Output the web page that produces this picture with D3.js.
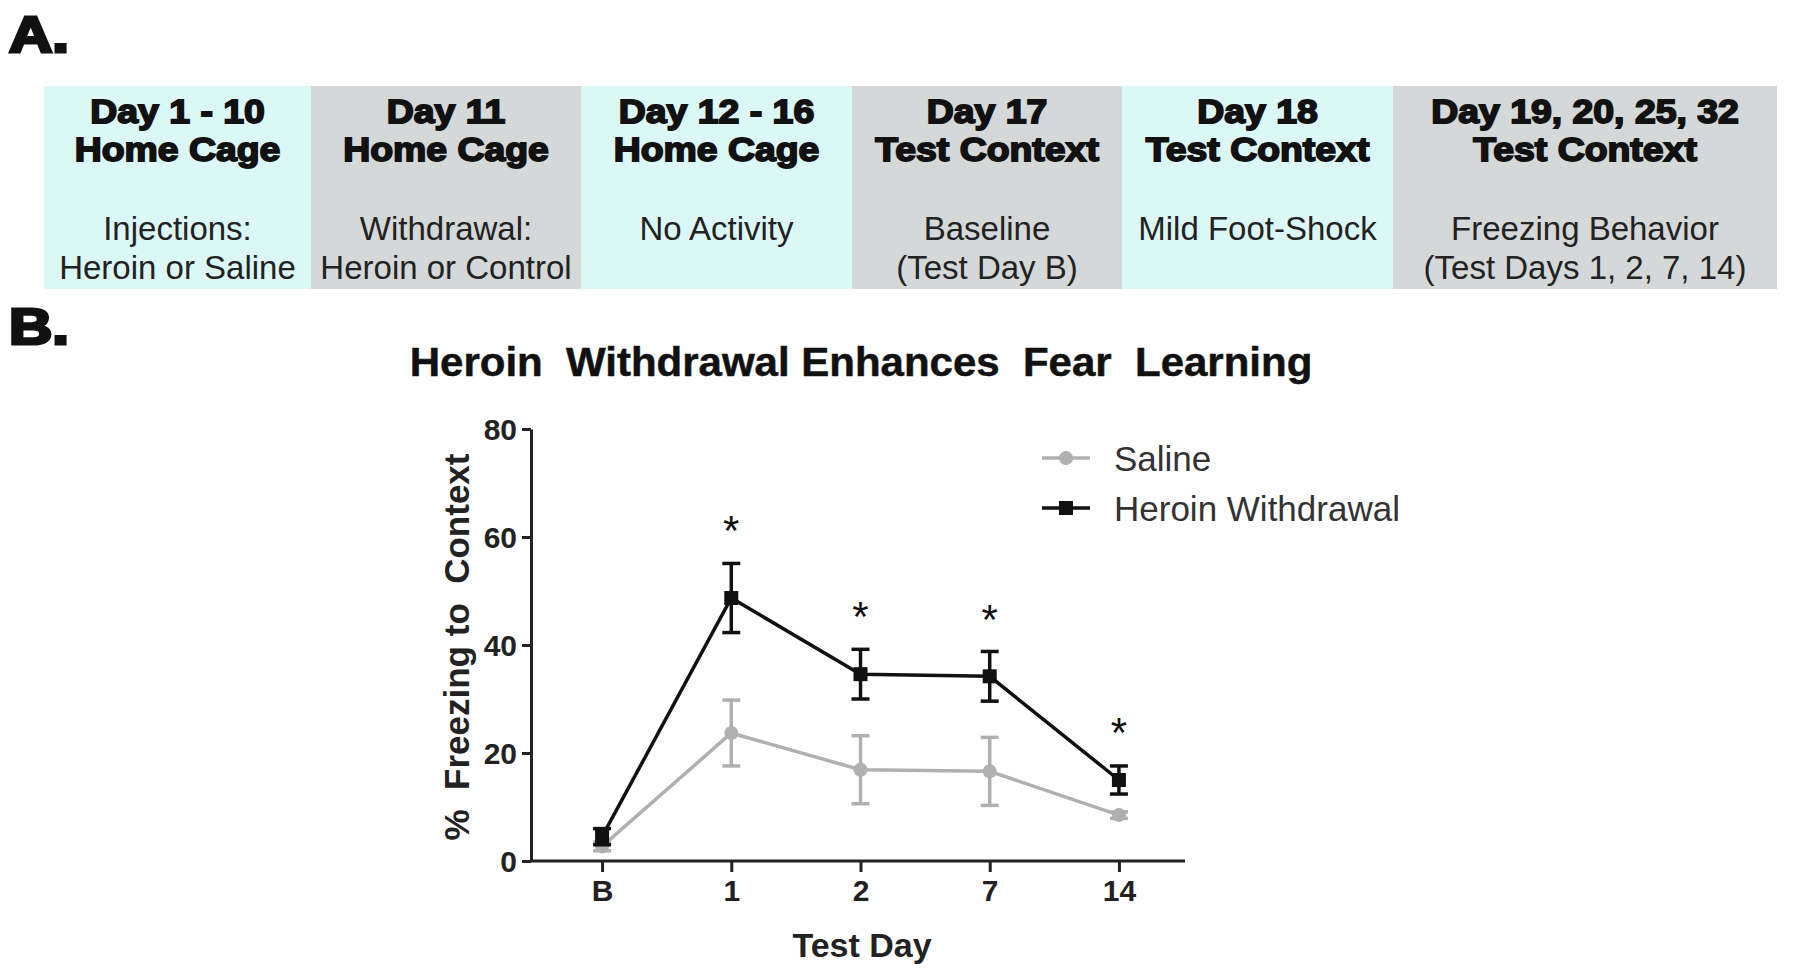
<!DOCTYPE html>
<html>
<head>
<meta charset="utf-8">
<script src="https://cdn.jsdelivr.net/npm/d3@7"></script>
<style>
	html, body { margin: 0; padding: 0; background: #fff; }
	svg { display: block; }
	text { font-family: "Liberation Sans", Arial, sans-serif; }
</style>
</head>
<body>
<div id="chart"></div>
<script>
// panel A: timeline
const phaseDays = ["Day 1 - 10", "Day 11", "Day 12 - 16", "Day 17", "Day 18", "Day 19, 20, 25, 32"];
const phasePlaces = ["Home Cage", "Home Cage", "Home Cage", "Test Context", "Test Context", "Test Context"];
const phaseDesc = [
	["Injections:", "Heroin or Saline"],
	["Withdrawal:", "Heroin or Control"],
	["No Activity"],
	["Baseline", "(Test Day B)"],
	["Mild Foot-Shock"],
	["Freezing Behavior", "(Test Days 1, 2, 7, 14)"]
];

// panel B: freezing data
const testDays = ["B", "1", "2", "7", "14"];
const salineMean = [2.7, 23.7, 16.9, 16.6, 8.5];
const salineSem = [0.8, 6.1, 6.3, 6.3, 0.6];
const heroinMean = [4.5, 48.7, 34.6, 34.2, 15.0];
const heroinSem = [1.5, 6.4, 4.6, 4.6, 2.6];
const starLevel = [null, 62, 46.2, 45.6, 24.6];
const yTicks = [0, 20, 40, 60, 80];

// layout
const width = 1800;
const height = 971;
const boxEdges = [44, 311, 581, 852, 1122, 1393, 1777];
const boxTop = 86;
const boxBottom = 289;
const cyan = "#dcf8f6";
const grey = "#d5d8d9";

const svg = d3.select("#chart").append("svg")
	.attr("width", width)
	.attr("height", height)
	.attr("viewBox", [0, 0, width, height]);

// panel letters
svg.selectAll("text.panel")
	.data([["A.", 52], ["B.", 344]])
	.join("text")
	.attr("class", "panel")
	.attr("transform", d => `translate(9,${d[1]}) scale(1.2,1)`)
	.attr("font-size", 50)
	.attr("font-weight", "bold")
	.attr("fill", "#111")
	.attr("stroke", "#111")
	.attr("stroke-width", 3)
	.text(d => d[0]);

// timeline boxes
const boxes = svg.append("g").selectAll("g")
	.data(phaseDays)
	.join("g");

boxes.append("rect")
	.attr("x", (d, i) => boxEdges[i])
	.attr("y", boxTop)
	.attr("width", (d, i) => boxEdges[i + 1] - boxEdges[i])
	.attr("height", boxBottom - boxTop)
	.attr("fill", (d, i) => i % 2 === 0 ? cyan : grey);

const boxMid = i => (boxEdges[i] + boxEdges[i + 1]) / 2;

function heading(sel, yPos, accessor) {
	sel.append("text")
		.attr("transform", (d, i) => `translate(${boxMid(i)},${yPos}) scale(1.1,1)`)
		.attr("text-anchor", "middle")
		.attr("font-size", 34)
		.attr("font-weight", "bold")
		.attr("fill", "#111")
		.attr("stroke", "#111")
		.attr("stroke-width", 1.8)
		.text(accessor);
}
heading(boxes, 123, d => d);
heading(boxes, 161, (d, i) => phasePlaces[i]);

boxes.each(function(d, i) {
	d3.select(this).selectAll("text.desc")
		.data(phaseDesc[i])
		.join("text")
		.attr("class", "desc")
		.attr("x", boxMid(i))
		.attr("y", (t, j) => 240 + j * 39)
		.attr("text-anchor", "middle")
		.attr("font-size", 33)
		.attr("fill", "#222")
		.text(t => t);
});

// panel B chart
const x = d3.scalePoint(testDays, [531, 1190]).padding(0.55);
const y = d3.scaleLinear([0, 80], [861, 429]);

svg.append("text")
	.attr("transform", "translate(861,376) scale(1.05,1)")
	.attr("text-anchor", "middle")
	.attr("font-size", 40)
	.attr("font-weight", "bold")
	.attr("fill", "#111")
	.attr("stroke", "#111")
	.attr("stroke-width", 0.5)
	.attr("xml:space", "preserve")
	.style("white-space", "pre")
	.text("Heroin  Withdrawal Enhances  Fear  Learning");

// axes
const gx = svg.append("g")
	.attr("transform", `translate(0,${y(0)})`)
	.call(d3.axisBottom(x).tickSize(11).tickPadding(8).tickSizeOuter(0));
gx.select(".domain").attr("d", `M531,0H1185`);

const gy = svg.append("g")
	.attr("transform", `translate(531,0)`)
	.call(d3.axisLeft(y).tickValues(yTicks).tickSize(9).tickPadding(5).tickSizeOuter(0));

[gx, gy].forEach(g => {
	g.select(".domain").attr("stroke", "#222").attr("stroke-width", 3);
	g.selectAll(".tick line").attr("stroke", "#222").attr("stroke-width", 3);
	g.selectAll(".tick text")
		.attr("font-size", 30)
		.attr("font-weight", "bold")
		.attr("font-family", "'Liberation Sans', Arial, sans-serif")
		.attr("fill", "#222");
});
gy.selectAll(".tick text").attr("dy", "0.35em");

svg.append("text")
	.attr("x", 862)
	.attr("y", 957)
	.attr("text-anchor", "middle")
	.attr("font-size", 34)
	.attr("font-weight", "bold")
	.attr("fill", "#222")
	.text("Test Day");

svg.append("text")
	.attr("transform", "translate(469,647) rotate(-90)")
	.attr("text-anchor", "middle")
	.attr("font-size", 35)
	.attr("font-weight", "bold")
	.attr("fill", "#222")
	.attr("xml:space", "preserve")
	.style("white-space", "pre")
	.text("%  Freezing to  Context");

// series
const series = [
	{ name: "Saline", mean: salineMean, sem: salineSem, color: "#b0b0b0", shape: "circle" },
	{ name: "Heroin Withdrawal", mean: heroinMean, sem: heroinSem, color: "#111", shape: "square" }
];

const line = d3.line()
	.x((d, i) => x(testDays[i]))
	.y(d => y(d));

series.forEach(s => {
	const g = svg.append("g");
	// error bars
	const err = g.selectAll("g.err")
		.data(s.mean)
		.join("g")
		.attr("class", "err");
	err.append("line")
		.attr("x1", (d, i) => x(testDays[i]))
		.attr("x2", (d, i) => x(testDays[i]))
		.attr("y1", (d, i) => y(d - s.sem[i]))
		.attr("y2", (d, i) => y(d + s.sem[i]))
		.attr("stroke", s.color)
		.attr("stroke-width", 3.5);
	[-1, 1].forEach(sign => {
		err.append("line")
			.attr("x1", (d, i) => x(testDays[i]) - 9)
			.attr("x2", (d, i) => x(testDays[i]) + 9)
			.attr("y1", (d, i) => y(d + sign * s.sem[i]))
			.attr("y2", (d, i) => y(d + sign * s.sem[i]))
			.attr("stroke", s.color)
			.attr("stroke-width", 3.5);
	});

	g.append("path")
		.datum(s.mean)
		.attr("fill", "none")
		.attr("stroke", s.color)
		.attr("stroke-width", 3.5)
		.attr("d", line);

	if (s.shape === "circle") {
		g.selectAll("circle")
			.data(s.mean)
			.join("circle")
			.attr("cx", (d, i) => x(testDays[i]))
			.attr("cy", d => y(d))
			.attr("r", 7)
			.attr("fill", s.color);
	} else {
		g.selectAll("rect")
			.data(s.mean)
			.join("rect")
			.attr("x", (d, i) => x(testDays[i]) - 7)
			.attr("y", d => y(d) - 7)
			.attr("width", 14)
			.attr("height", 14)
			.attr("fill", s.color);
	}
});

// significance stars
svg.selectAll("text.star")
	.data(starLevel)
	.join("text")
	.attr("class", "star")
	.filter(d => d !== null)
	.attr("x", (d, i) => x(testDays[starLevel.indexOf(d)]))
	.attr("y", d => y(d) + 19)
	.attr("text-anchor", "middle")
	.attr("font-size", 42)
	.attr("fill", "#111")
	.text("*");

// legend
const legend = svg.append("g")
	.selectAll("g")
	.data(series)
	.join("g")
	.attr("transform", (d, i) => `translate(1042,${458 + i * 50})`);

legend.append("line")
	.attr("x1", 0)
	.attr("x2", 48)
	.attr("stroke", d => d.color)
	.attr("stroke-width", 3.5);

legend.filter(d => d.shape === "circle").append("circle")
	.attr("cx", 24)
	.attr("r", 7)
	.attr("fill", d => d.color);

legend.filter(d => d.shape === "square").append("rect")
	.attr("x", 17)
	.attr("y", -7)
	.attr("width", 14)
	.attr("height", 14)
	.attr("fill", d => d.color);

legend.append("text")
	.attr("x", 72)
	.attr("dy", "0.36em")
	.attr("font-size", 35)
	.attr("fill", "#333")
	.text(d => d.name);
</script>
</body>
</html>
